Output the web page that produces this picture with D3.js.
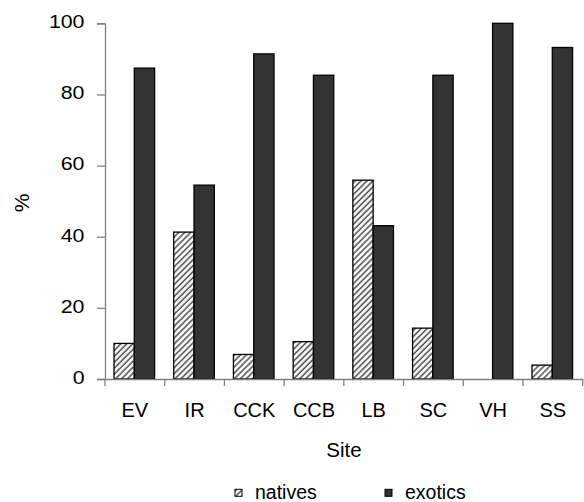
<!DOCTYPE html>
<html><head><meta charset="utf-8">
<script src="https://cdn.jsdelivr.net/npm/d3@7/dist/d3.min.js"></script>
<style>body{margin:0;background:#fff}svg{display:block}</style>
</head><body><svg id="c" width="584" height="502"></svg>
<script>
const sites = ["EV","IR","CCK","CCB","LB","SC","VH","SS"];
const natives = [10.0, 41.3, 6.9, 10.5, 55.9, 14.3, 0, 3.9];
const exotics = [87.4, 54.5, 91.4, 85.4, 43.1, 85.4, 100, 93.2];
const yTicks = [0,20,40,60,80,100];
const seriesNames = ["natives","exotics"];

const FONT = "Liberation Sans, Arial, sans-serif";
const svg = d3.select("#c");
const defs = svg.append("defs");
const pat = defs.append("pattern").attr("id","hatch").attr("patternUnits","userSpaceOnUse")
  .attr("width",4.2).attr("height",4.2).attr("patternTransform","rotate(45)");
pat.append("rect").attr("width",4.2).attr("height",4.2).attr("fill","#fff");
pat.append("line").attr("x1",1).attr("y1",0).attr("x2",1).attr("y2",4.2).attr("stroke","#555").attr("stroke-width",1.6);

const pLeft=105, pRight=582.7, pTop=23.3, pBottom=379;
const x = d3.scaleBand().domain(sites).range([pLeft,pRight]).paddingInner(0).paddingOuter(0);
const y = d3.scaleLinear().domain([0,100]).range([pBottom,pTop]);
const x1 = d3.scaleBand().domain(seriesNames).range([9, 9+40.6]);

const fills = {natives:"url(#hatch)", exotics:"#333333"};
const data = sites.map((s,i)=>({site:s, natives:natives[i], exotics:exotics[i]}));

const g = svg.append("g");
data.forEach(d=>{
  seriesNames.forEach(k=>{
    if (d[k] <= 0) return;
    g.append("rect")
      .attr("x", x(d.site)+x1(k)).attr("width", x1.bandwidth())
      .attr("y", y(d[k])).attr("height", y(0)-y(d[k]))
      .attr("fill", fills[k]).attr("stroke","#000").attr("stroke-width",1.3);
  });
});

// y axis
const ya = svg.append("g").attr("transform",`translate(${pLeft},0)`)
  .call(d3.axisLeft(y).tickValues(yTicks).tickSize(8).tickPadding(12.5));
ya.select(".domain").attr("stroke","#808080").attr("stroke-width",1.3);
ya.selectAll(".tick line").attr("stroke","#808080").attr("stroke-width",1.3);
ya.selectAll("text").attr("font-size",17.5).attr("font-family",FONT).attr("fill","#000")
  .attr("dy",null).attr("y",4.3)
  .each(function(){ const L=this.getComputedTextLength(); d3.select(this).attr("textLength",L*1.22).attr("lengthAdjust","spacingAndGlyphs"); });

// x axis
const xa = svg.append("g").attr("transform",`translate(0,${pBottom})`)
  .call(d3.axisBottom(x).tickSize(0));
xa.select(".domain").attr("stroke","#808080").attr("stroke-width",1.3);
xa.selectAll("text").attr("font-size",20).attr("font-family",FONT).attr("fill","#000")
  .attr("dy",null).attr("y",37.5);
const bounds = sites.map(s=>x(s)).concat([pRight]);
svg.append("g").selectAll("line").data(bounds).join("line")
  .attr("x1",d=>d).attr("x2",d=>d).attr("y1",pBottom).attr("y2",pBottom+7)
  .attr("stroke","#808080").attr("stroke-width",1.3);

// axis titles
svg.append("text").attr("x",344).attr("y",456.5).attr("text-anchor","middle")
  .attr("font-size",20.5).attr("font-family",FONT).text("Site");
svg.append("text").attr("transform","translate(29,203) rotate(-90)").attr("text-anchor","middle")
  .attr("font-size",21).attr("font-family",FONT).text("%");

// legend
const leg = [{k:"natives", x:235},{k:"exotics", x:385}];
leg.forEach(l=>{
  svg.append("rect").attr("x",l.x).attr("y",489.3).attr("width",7).attr("height",7)
    .attr("fill",fills[l.k]).attr("stroke","#000").attr("stroke-width",1);
  svg.append("text").attr("x",l.x+20).attr("y",499).attr("font-size",19.5).attr("font-family",FONT).text(l.k);
});
</script></body></html>
